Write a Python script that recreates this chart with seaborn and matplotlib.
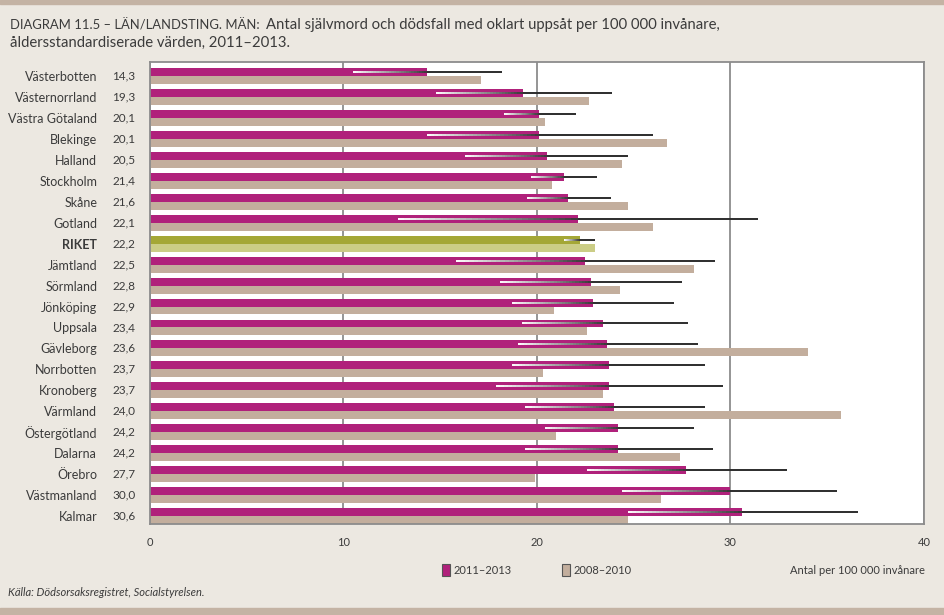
import numpy as np
import pandas as pd
import seaborn as sns
import matplotlib.pyplot as plt
import matplotlib.transforms as mtransforms
from matplotlib.collections import LineCollection
from matplotlib.colors import LinearSegmentedColormap
from matplotlib.patches import Rectangle

# data (läst ur diagrammet)
lan = ['Västerbotten', 'Västernorrland', 'Västra Götaland', 'Blekinge', 'Halland',
       'Stockholm', 'Skåne', 'Gotland', 'RIKET', 'Jämtland', 'Sörmland', 'Jönköping',
       'Uppsala', 'Gävleborg', 'Norrbotten', 'Kronoberg', 'Värmland', 'Östergötland',
       'Dalarna', 'Örebro', 'Västmanland', 'Kalmar']
varde_1113 = [14.3, 19.3, 20.1, 20.1, 20.5, 21.4, 21.6, 22.1, 22.2, 22.5, 22.8, 22.9,
              23.4, 23.6, 23.7, 23.7, 24.0, 24.2, 24.2, 27.7, 30.0, 30.6]
varde_0810 = [17.1, 22.7, 20.4, 26.7, 24.4, 20.8, 24.7, 26.0, 23.0, 28.1, 24.3, 20.9,
              22.6, 34.0, 20.3, 23.4, 35.7, 21.0, 27.4, 19.9, 26.4, 24.7]
ki_lag = [10.5, 14.8, 18.3, 14.3, 16.3, 19.7, 19.5, 12.8, 21.4, 15.8, 18.1, 18.7,
          19.2, 19.0, 18.7, 17.9, 19.4, 20.4, 19.4, 22.6, 24.4, 24.7]
ki_hog = [18.2, 23.9, 22.0, 26.0, 24.7, 23.1, 23.8, 31.4, 23.0, 29.2, 27.5, 27.1,
          27.8, 28.3, 28.7, 29.6, 28.7, 28.1, 29.1, 32.9, 35.5, 36.6]
perioder = ['2011–2013', '2008–2010']
xticks = [0, 10, 20, 30, 40]

MAGENTA = '#B0217B'
BEIGE = '#C3AE9D'
OLIV = '#A4A736'
OLIV_LJUS = '#CBCD86'
BG = '#ECE8E1'
TEXT = '#3B3B3B'

sns.set_style('white')
plt.rcParams['font.family'] = ['Lato', 'DejaVu Sans']

df = pd.DataFrame({
    'lan': lan * 2,
    'varde': varde_1113 + varde_0810,
    'period': [perioder[0]] * len(lan) + [perioder[1]] * len(lan),
})

fig = plt.figure(figsize=(9.45, 6.15), dpi=100, facecolor=BG)
ax = fig.add_axes([150 / 945, 1 - 524 / 615, 774 / 945, 462 / 615])
ax.set_facecolor('white')

sns.barplot(data=df, y='lan', x='varde', hue='period', hue_order=perioder,
            palette=[MAGENTA, BEIGE], orient='h', width=0.76, saturation=1,
            linewidth=0, ax=ax)

# RIKET i grönt
ri = lan.index('RIKET')
ax.containers[0][ri].set_facecolor(OLIV)
ax.containers[1][ri].set_facecolor(OLIV_LJUS)

# konfidensintervall: gradient vit->mörk fram till värdet, sedan mörk linje
cmap = LinearSegmentedColormap.from_list('ki', ['#ffffff', '#3a3a3a'])
for i, bar in enumerate(ax.containers[0]):
    yc = bar.get_y() + bar.get_height() / 2
    xs = np.linspace(ki_lag[i], varde_1113[i], 30)
    segs = [[(xs[k], yc), (xs[k + 1], yc)] for k in range(len(xs) - 1)]
    lc = LineCollection(segs, colors=cmap(np.linspace(0, 1, len(segs))),
                        linewidths=1.4, zorder=4, capstyle='butt')
    ax.add_collection(lc)
    ax.plot([varde_1113[i], ki_hog[i]], [yc, yc], color='#2c2c2c', lw=1.4,
            zorder=4, solid_capstyle='butt')

ax.set_xlim(0, 40)
ax.set_ylim(len(lan) - 0.62, -0.67)
ax.set_xticks(xticks)
ax.set_xticklabels([str(t) for t in xticks])
ax.grid(axis='x', color='#8c8c8c', lw=1.3)
ax.set_axisbelow(True)
for s in ax.spines.values():
    s.set_color('#8c8c8c')
    s.set_linewidth(1.3)
ax.set_xlabel('')
ax.set_ylabel('')
ax.tick_params(axis='x', length=0, pad=9, labelsize=8, labelcolor=TEXT)
ax.tick_params(axis='y', length=0, pad=38, labelsize=9, labelcolor=TEXT)
for lbl in ax.get_yticklabels():
    if lbl.get_text() == 'RIKET':
        lbl.set_fontweight('bold')

# värden 2011-2013 bredvid namnen
trans = mtransforms.blended_transform_factory(fig.transFigure, ax.transData)
for i, v in enumerate(varde_1113):
    ax.text(124 / 945, i, f'{v:.1f}'.replace('.', ','), transform=trans,
            ha='center', va='center', fontsize=8.5, color=TEXT)

# legend
sns.move_legend(ax, 'center left', bbox_to_anchor=(432 / 945, 1 - 570 / 615),
                bbox_transform=fig.transFigure, ncol=2, frameon=False, title=None,
                fontsize=8, handlelength=0.75, handleheight=1.3, handletextpad=0.3,
                columnspacing=4.5)
for h in ax.get_legend().legend_handles:
    h.set_edgecolor('#555555')
    h.set_linewidth(0.8)
for t in ax.get_legend().get_texts():
    t.set_color(TEXT)

fig.text(925 / 945, 1 - 570 / 615, 'Antal per 100 000 invånare', ha='right',
         va='center', fontsize=8, color=TEXT)
fig.text(8 / 945, 1 - 593 / 615, 'Källa: Dödsorsaksregistret, Socialstyrelsen.',
         ha='left', va='center', fontsize=8, style='italic', color=TEXT)

# rubrik
t1 = fig.text(10 / 945, 1 - 25 / 615, 'DIAGRAM 11.5 – LÄN/LANDSTING. MÄN:',
              ha='left', va='center', fontsize=9.4, color=TEXT)
fig.canvas.draw()
bb = t1.get_window_extent()
x2 = (bb.x1 + 6) / fig.bbox.width
fig.text(x2, 1 - 25 / 615,
         'Antal självmord och dödsfall med oklart uppsåt per 100 000 invånare,',
         ha='left', va='center', fontsize=10.7, color=TEXT)
fig.text(10 / 945, 1 - 43 / 615, 'åldersstandardiserade värden, 2011–2013.',
         ha='left', va='center', fontsize=10.7, color=TEXT)

# dekorlister upptill och nedtill
fig.add_artist(Rectangle((0, 1 - 4 / 615), 1, 4 / 615, transform=fig.transFigure,
                         color='#C4B3A4', zorder=0))
fig.add_artist(Rectangle((0, 0), 1, 7 / 615, transform=fig.transFigure,
                         color='#C4B3A4', zorder=0))

fig.savefig('out.png', dpi=100, facecolor=BG)
